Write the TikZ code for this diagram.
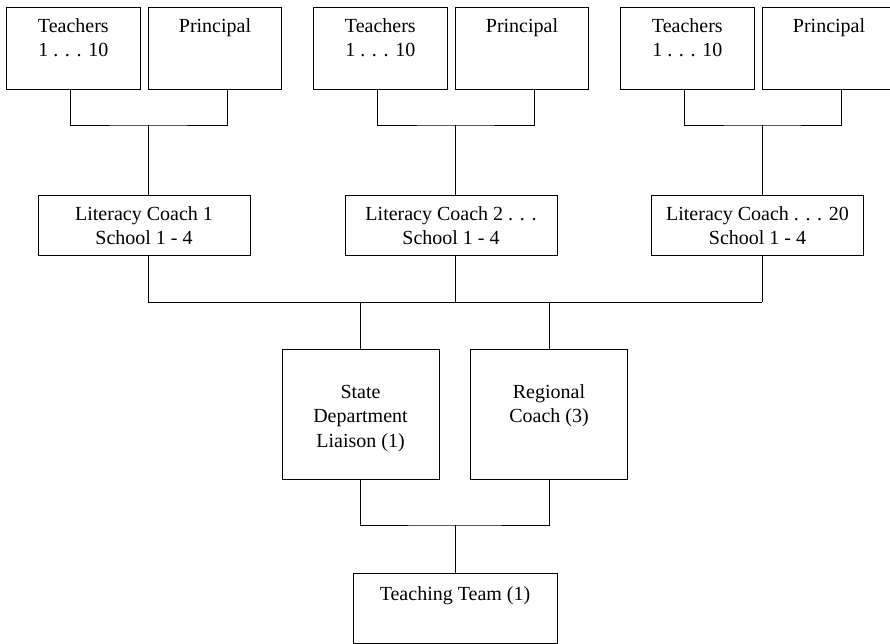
\documentclass[tikz,border=0pt]{standalone}
\usepackage{fontspec}
\setmainfont{Liberation Serif}
\begin{document}
\begin{tikzpicture}[x=1pt, y=1pt, line width=0.9pt,
    every node/.style={font=\fontsize{20}{24.5}\selectfont, align=center, inner sep=0pt, anchor=north},
    unit/.style={rectangle, draw, minimum width=133.5pt, text height=25pt, text depth=57pt},
    coach/.style={rectangle, draw, minimum width=212pt, text height=49.5pt, text depth=10.5pt},
    liaison/.style={rectangle, draw, minimum width=157pt, text height=98pt, text depth=32pt},
    team/.style={rectangle, draw, minimum width=204pt, text height=27pt, text depth=43pt}]
    \clip (0,0) rectangle (890,-644);

    % School groups
    \foreach \i/\x in {1/0, 2/307, 3/614} {
        \node[unit, text height=49.5pt, text depth=32.5pt] (T\i) at (73.3+\x, -7) {Teachers\\1 . . . 10};
        \node[unit] (P\i) at (215+\x, -7) {Principal};
        \coordinate (B\i) at (148+\x, -125);
    }

    % Literacy coaches
    \node[coach] (LC1) at (144, -195) {Literacy Coach 1\\School 1 - 4};
    \node[coach] (LC2) at (451, -195) {Literacy Coach 2 . . .\\School 1 - 4};
    \node[coach] (LC3) at (757.5, -195) {Literacy Coach . . . 20\\School 1 - 4};

    % Liaison and regional coach
    \node[liaison] (STATE) at (360.5, -349) {State\\Department\\Liaison (1)};
    \node[liaison, text height=73.5pt, text depth=56.5pt] (REGIONAL) at (549, -349) {Regional\\Coach (3)};

    % Teaching team
    \node[team] (TEAM) at (455, -573) {Teaching Team (1)};

    \coordinate (BUS) at (455, -302);
    \coordinate (JOIN) at (455, -525);

    % Connections
    \foreach \i in {1,2,3} {
        \draw ([xshift=-3.3pt]T\i.south) |- (B\i) -| ([xshift=12pt]P\i.south);
        \draw (B\i) -- (B\i |- LC\i.north);
        \draw (B\i |- LC\i.south) -- (B\i |- BUS);
    }
    \draw (B1 |- BUS) -- (B3 |- BUS);

    \draw (STATE.north |- BUS) -- (STATE.north);
    \draw (REGIONAL.north |- BUS) -- (REGIONAL.north);

    \draw (STATE.south) |- (JOIN) -| (REGIONAL.south);
    \draw (JOIN) -- (TEAM.north);
\end{tikzpicture}
\end{document}
